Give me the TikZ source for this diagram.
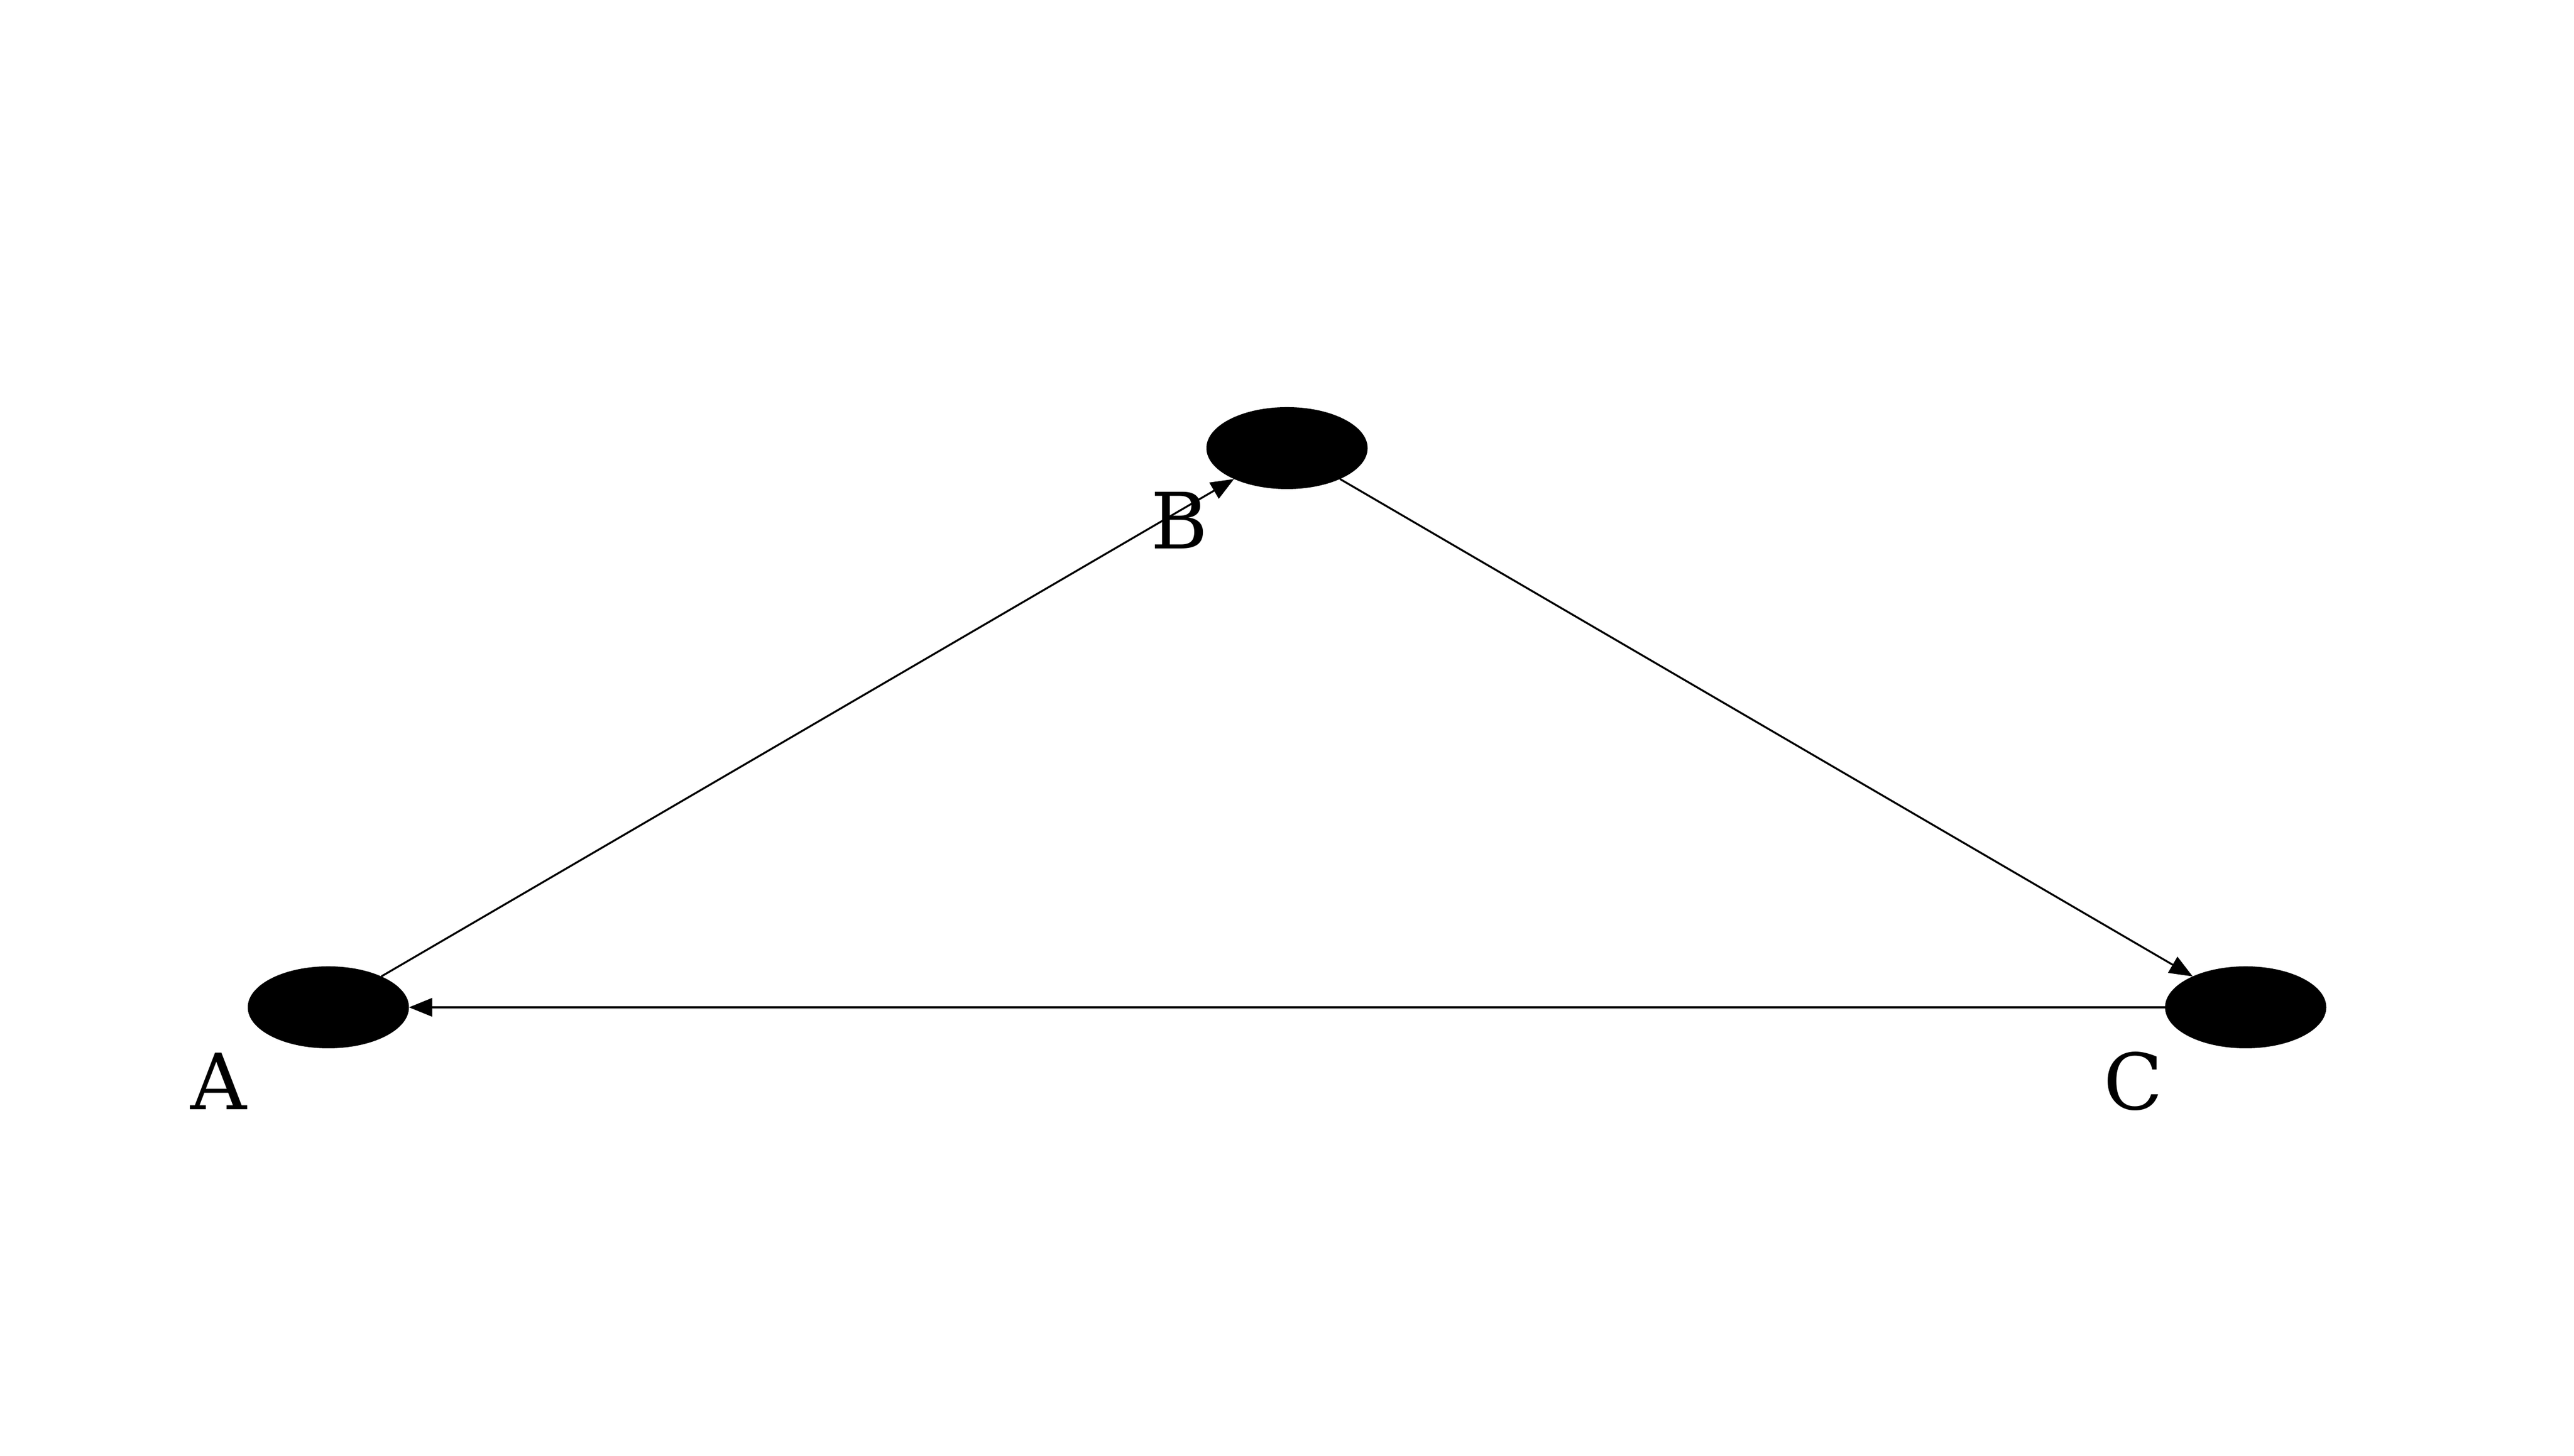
\documentclass[tikz,border=0pt]{standalone}
\usepackage{fontspec}
\setmainfont{DejaVu Serif}
\usetikzlibrary{shapes.geometric,arrows.meta}
\tikzset{
  vertex/.style={ellipse, fill=black, draw=none, minimum width=2.99cm, minimum height=1.52cm, inner sep=0pt, outer sep=0pt},
  xlab/.style={anchor=base, inner sep=0pt, font=\fontsize{41}{48}\selectfont},
  edge/.style={line width=1pt, -{Triangle[length=0.43cm, width=0.34cm]}}
}
\begin{document}
\begin{tikzpicture}
\useasboundingbox (0,0) rectangle (47.74,27);
\node[vertex] (A) at (6.09,8.32) {};
\node[vertex] (B) at (23.87,18.69) {};
\node[vertex] (C) at (41.65,8.32) {};
\node[xlab] (la) at (4.06,6.42) {A};
\node[xlab] (lb) at (21.87,16.82) {B};
\node[xlab] (lc) at (39.57,6.42) {C};
\draw[edge] (A) -- (B);
\draw[edge] (B) -- (C);
\draw[edge] (C) -- (A);
\end{tikzpicture}
\end{document}
